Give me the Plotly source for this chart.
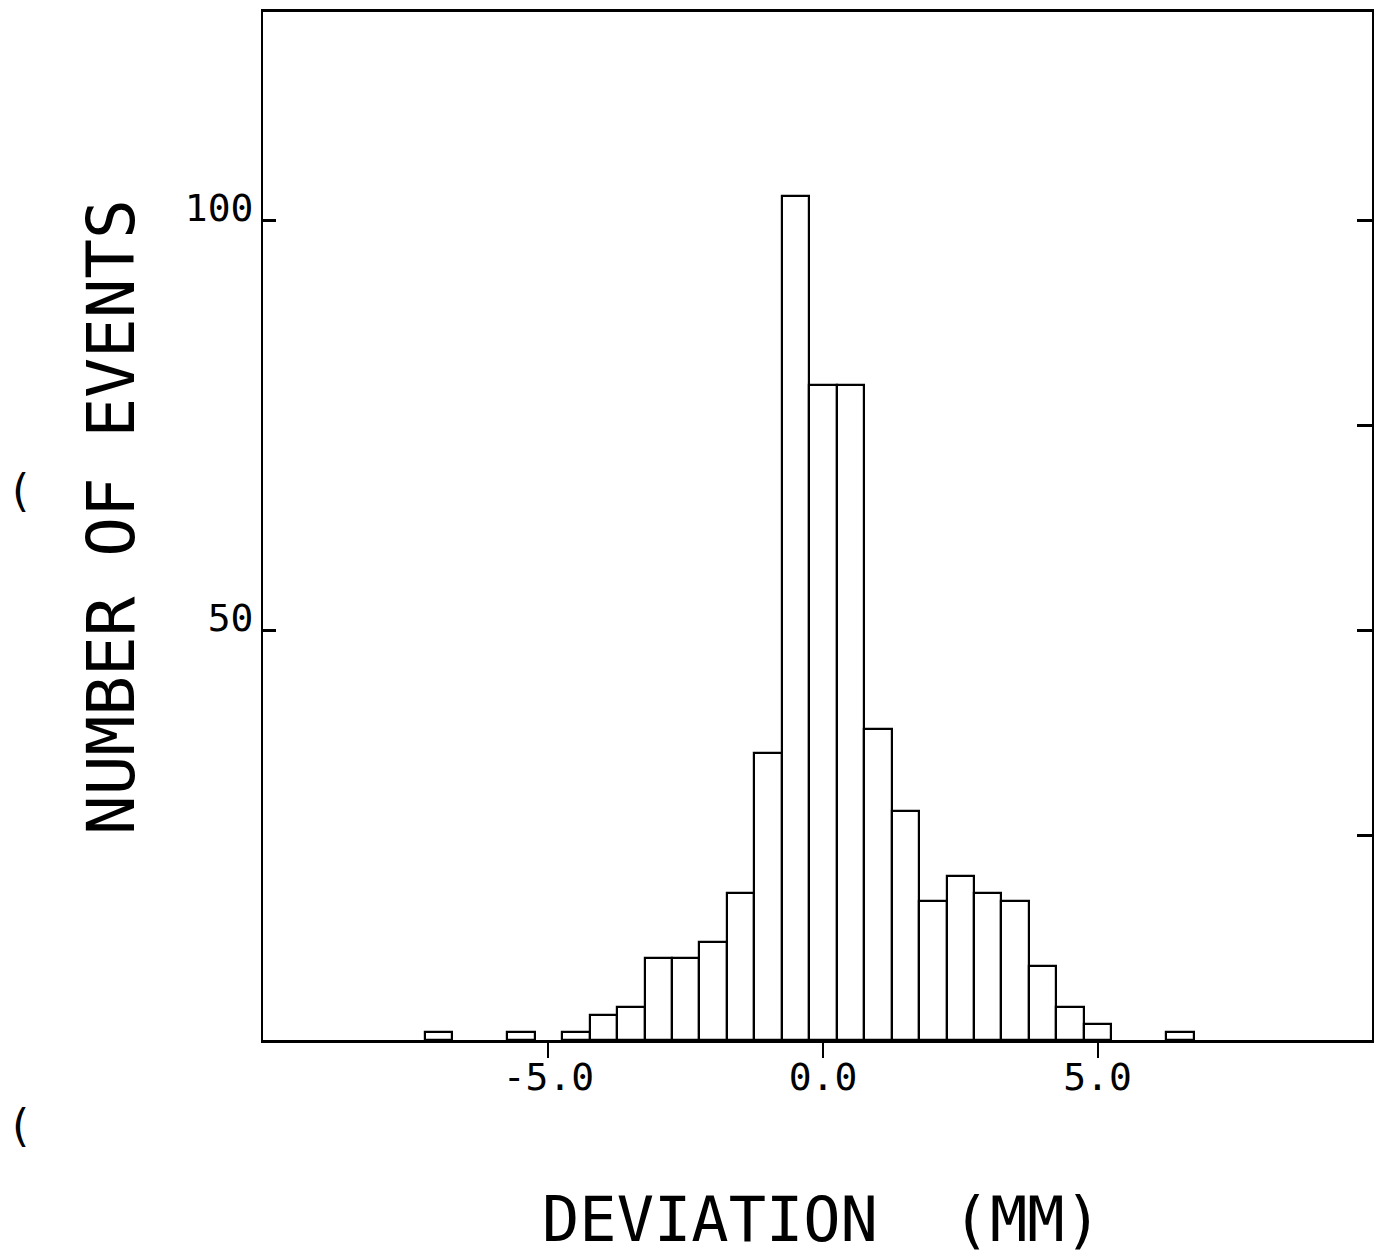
import plotly.graph_objects as go

# Histogram of deviation (mm), bin width 0.5 mm, bins centred on multiples of 0.5
bin_centers = [-7.0, -5.5, -4.5, -4.0, -3.5, -3.0, -2.5, -2.0, -1.5, -1.0, -0.5,
               0.0, 0.5, 1.0, 1.5, 2.0, 2.5, 3.0, 3.5, 4.0, 4.5, 5.0, 6.5]
counts = [1, 1, 1, 3, 4, 10, 10, 12, 18, 35, 103,
          80, 80, 38, 28, 17, 20, 18, 17, 9, 4, 2, 1]
bin_width = 0.5

x_tick_vals = [-5.0, 0.0, 5.0]
x_tick_text = ["-5.0", "0.0", "5.0"]
y_left_ticks = [50, 100]
y_left_text = ["50", "100"]
y_right_ticks = [25, 50, 75, 100]

x_range = [-10.2, 10.0]
y_range = [0, 125.5]

x_title = "DEVIATION  (MM)"
y_title = "NUMBER OF EVENTS"

FONT = "DejaVu Sans Mono"

fig = go.Figure()
fig.add_trace(go.Bar(
    x=bin_centers, y=counts, width=bin_width,
    marker=dict(color="white", line=dict(color="black", width=2.2)),
    showlegend=False, hoverinfo="skip",
))
fig.add_trace(go.Scatter(x=[None], y=[None], yaxis="y2", showlegend=False,
                         hoverinfo="skip"))

fig.update_layout(
    width=1384, height=1260,
    margin=dict(l=263, r=12, t=12, b=220, autoexpand=False),
    paper_bgcolor="white", plot_bgcolor="white",
    bargap=0,
    xaxis=dict(
        range=x_range, showgrid=False, zeroline=False, automargin=False,
        showline=True, linecolor="black", linewidth=3, mirror=True,
        tickvals=x_tick_vals, ticktext=x_tick_text,
        ticks="outside", ticklen=15, tickwidth=2, tickcolor="black",
        ticklabelstandoff=-14,
        tickfont=dict(family=FONT, size=38, color="black"),
    ),
    yaxis=dict(
        range=y_range, showgrid=False, zeroline=False, automargin=False,
        showline=True, linecolor="black", linewidth=2,
        tickvals=y_left_ticks, ticktext=y_left_text,
        ticks="inside", ticklen=13, tickwidth=2.5, tickcolor="black",
        tickfont=dict(family=FONT, size=38, color="black"),
        ticklabelshift=-13,
    ),
    yaxis2=dict(
        range=y_range, overlaying="y", side="right", anchor="x",
        showgrid=False, zeroline=False, automargin=False,
        showline=True, linecolor="black", linewidth=2,
        tickvals=y_right_ticks, showticklabels=False,
        ticks="inside", ticklen=15, tickwidth=2.5, tickcolor="black",
    ),
)

# axis titles
fig.add_annotation(text=x_title, xref="paper", yref="paper",
                   x=0.504, y=-0.175, xanchor="center", yanchor="middle",
                   showarrow=False,
                   font=dict(family=FONT, size=62, color="black"))
fig.add_annotation(text=y_title, xref="paper", yref="paper",
                   x=-0.136, y=0.509, xanchor="center", yanchor="middle",
                   textangle=-90, showarrow=False,
                   font=dict(family=FONT, size=66, color="black"))

# hole-punch marks from the scanned page
for yp in [0.535, -0.083]:
    fig.add_annotation(text="(", xref="paper", yref="paper",
                       x=-0.219, y=yp, xanchor="center", yanchor="middle",
                       showarrow=False,
                       font=dict(family="DejaVu Sans", size=44, color="black"))

fig.write_html("out.html")
